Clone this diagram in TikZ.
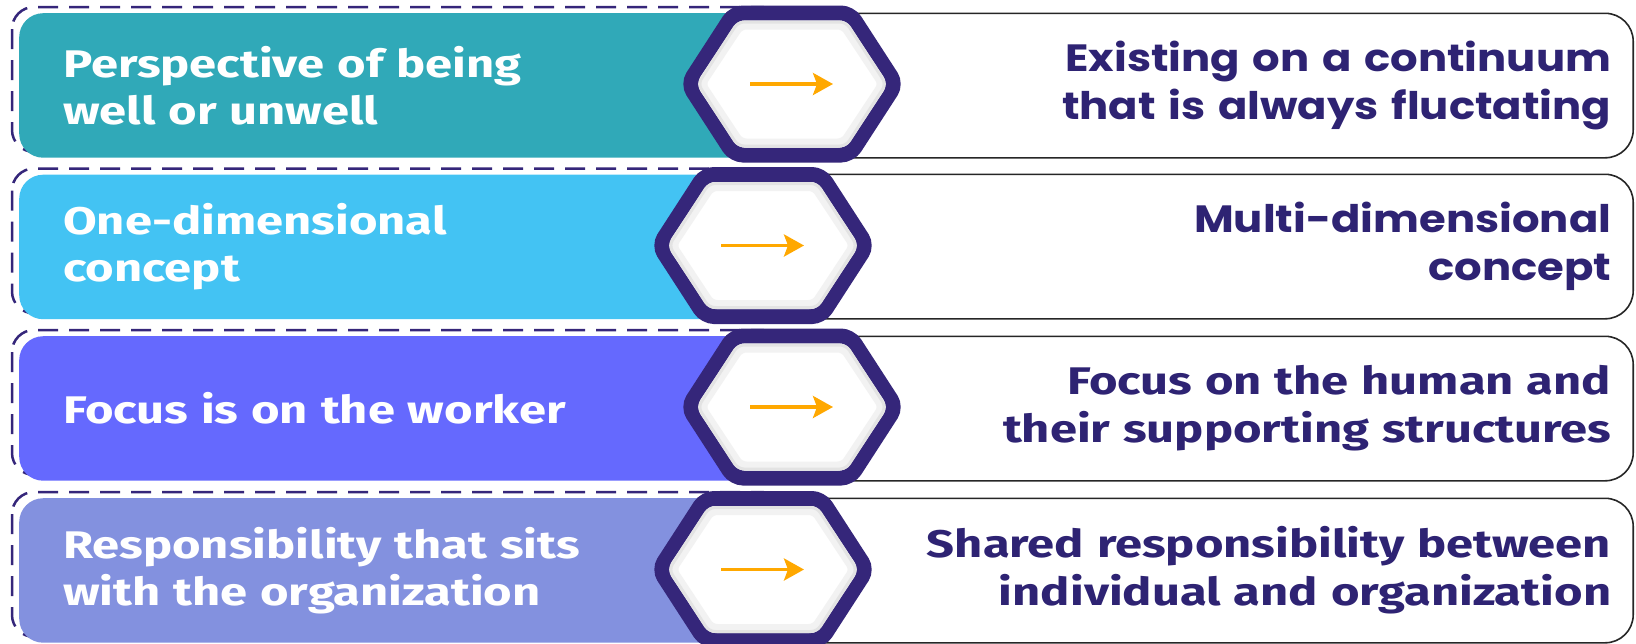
\documentclass[tikz,border=0pt]{standalone}
\usepackage{fontspec}
\setmainfont{Fira Sans}
\newfontfamily\plainwide[FakeStretch=1.27]{Fira Sans}
\newfontfamily\roundwide[FakeStretch=1.14]{Poppins}
\usetikzlibrary{arrows.meta,positioning,backgrounds}

\definecolor{rowA}{HTML}{30A9B8}
\definecolor{rowB}{HTML}{43C3F3}
\definecolor{rowC}{HTML}{6569FE}
\definecolor{rowD}{HTML}{8391DF}
\definecolor{hexpurple}{HTML}{35267A}
\definecolor{ink}{HTML}{2E2373}
\definecolor{amber}{HTML}{FFA800}

\begin{document}
\begin{tikzpicture}[
	x = 1pt, y = -1pt, % pixel grid, y runs downwards
	> = {Stealth[length=20pt, width=22pt, inset=4pt]},
	lbox/.style={rectangle, rounded corners=24pt, anchor=north west, minimum width=771pt, minimum height=144.5pt, inner xsep=44pt, text width=683pt, align=left, text=white, font=\plainwide\fontsize{38.5}{47}\selectfont\bfseries},
	rbox/.style={rectangle, rounded corners=28pt, anchor=north east, draw=black!85, line width=1.6pt, fill=white, minimum width=871pt, minimum height=144.5pt, inner xsep=22pt, text width=827pt, align=right, text=ink, font=\plainwide\fontsize{38.5}{48}\selectfont\bfseries},
	wide/.style={font=\roundwide\fontsize{38}{48}\selectfont\bfseries},
	dashbox/.style={draw=hexpurple, line width=2.5pt, dash pattern=on 20pt off 11pt, rounded corners=22pt},
	flow/.style={->, draw=amber, line width=3.5pt},
	hexa/.pic={
		\draw[line width=15pt, draw=hexpurple, fill=white, rounded corners=9pt]
			(-104,0) -- (-58,-71) -- (58,-71) -- (104,0) -- (58,71) -- (-58,71) -- cycle;
		% soft rim on the inside
		\draw[line width=9pt, draw=black!5, rounded corners=6pt]
			(-91,0) -- (-52,-59) -- (52,-59) -- (91,0) -- (52,59) -- (-52,59) -- cycle;
		\draw[line width=3pt, draw=black!11, rounded corners=6pt]
			(-94,0) -- (-54,-62) -- (54,-62) -- (94,0) -- (54,62) -- (-54,62) -- cycle;
		\coordinate (-from) at (-42,0);
		\coordinate (-to) at (41,0);
	},
	]

	\useasboundingbox (0,0) rectangle (1636,643);

	% Left side: the old view
	\node[lbox, fill=rowA] (l1) at (19,13) {Perspective of being\\well or unwell};
	\node[lbox, fill=rowB] (l2) at (19,174.5) {One-dimensional\\concept};
	\node[lbox, fill=rowC] (l3) at (19,336) {Focus is on the worker};
	\node[lbox, fill=rowD] (l4) at (19,498) {Responsibility that sits\\with the organization};

	% dashed frames peeking out above and left
	\begin{scope}[on background layer]
		\draw[dashbox] ([shift={(-7,-6)}]l1.north west) rectangle ([shift={(-7,-6)}]l1.south east);
		\draw[dashbox] ([shift={(-7,-6)}]l2.north west) rectangle ([shift={(-7,-6)}]l2.south east);
		\draw[dashbox] ([shift={(-7,-6)}]l3.north west) rectangle ([shift={(-7,-6)}]l3.south east);
		\draw[dashbox] ([shift={(-7,-6)}]l4.north west) rectangle ([shift={(-7,-6)}]l4.south east);
	\end{scope}

	% Right side: the new view
	\node[rbox, wide] (r1) at (1634,12.5) {Existing on a continuum\\that is always fluctating};
	\node[rbox, wide] (r2) at (1634,173.5) {Multi-dimensional\\concept};
	\node[rbox] (r3) at (1634,335.5) {Focus on the human and\\their supporting structures};
	\node[rbox] (r4) at (1634,497.5) {Shared responsibility between\\individual and organization};

	% Hexagons with arrows
	\pic (h1) at (792,84) {hexa};
	\pic (h2) at (763,245.5) {hexa};
	\pic (h3) at (792,407) {hexa};
	\pic (h4) at (763,569.5) {hexa};
	\draw[flow] (h1-from) -- (h1-to);
	\draw[flow] (h2-from) -- (h2-to);
	\draw[flow] (h3-from) -- (h3-to);
	\draw[flow] (h4-from) -- (h4-to);

\end{tikzpicture}
\end{document}
